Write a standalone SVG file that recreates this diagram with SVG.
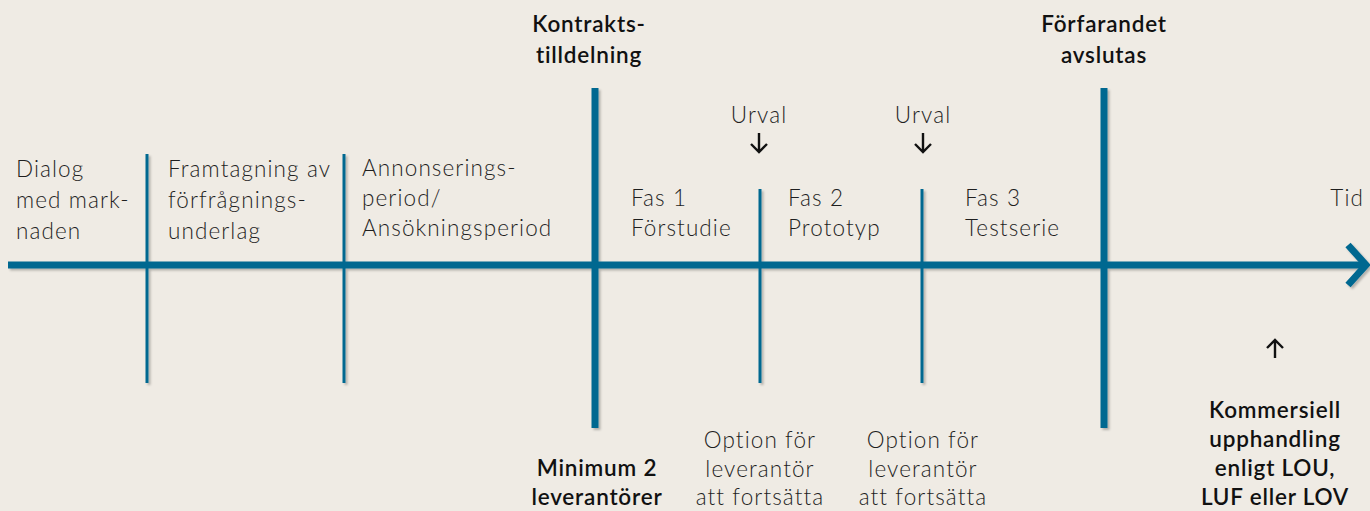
<svg xmlns="http://www.w3.org/2000/svg" width="1370" height="511" viewBox="0 0 1370 511">
<style>
.bg{fill:#efebe4}
.thin{stroke:#006890;stroke-width:3;fill:none}
.thick{stroke:#006890;stroke-width:7;fill:none}
.t{font-family:Lato,"Open Sans",sans-serif;font-weight:300;font-size:22.5px;letter-spacing:1.1px;fill:#1f1f1f}
.b{font-family:Lato,"Open Sans",sans-serif;font-weight:600;font-size:22.5px;letter-spacing:0.8px;fill:#111}
.c{text-anchor:middle}
.ar{stroke:#111;stroke-width:2.4;fill:none}
</style>
<defs>
<filter id="sh" x="-20%" y="-20%" width="140%" height="140%">
<feDropShadow dx="2" dy="2" stdDeviation="1.2" flood-color="#000" flood-opacity="0.25"/>
</filter>
</defs>
<rect class="bg" x="0" y="0" width="1370" height="511"/>
<g id="connectors" filter="url(#sh)">
<line class="thin" x1="147" y1="154" x2="147" y2="383"/>
<line class="thin" x1="344" y1="154" x2="344" y2="383"/>
<line class="thin" x1="760" y1="189" x2="760" y2="383"/>
<line class="thin" x1="922" y1="189" x2="922" y2="383"/>
<line class="thick" x1="595" y1="88" x2="595" y2="428"/>
<line class="thick" x1="1104" y1="88" x2="1104" y2="428"/>
<line class="thick" x1="8" y1="265" x2="1364" y2="265"/>
<polyline class="thick" points="1348,245 1366,265 1348,285"/>
</g>
<g id="dialog"><text class="t"><tspan x="16" y="177">Dialog</tspan><tspan x="16" y="208">med mark-</tspan><tspan x="16" y="239">naden</tspan></text></g>
<g id="framtagning"><text class="t"><tspan x="168" y="177">Framtagning av</tspan><tspan x="168" y="208">förfrågnings-</tspan><tspan x="168" y="239">underlag</tspan></text></g>
<g id="annonsering"><text class="t"><tspan x="362" y="176">Annonserings-</tspan><tspan x="362" y="206">period/</tspan><tspan x="362" y="236">Ansökningsperiod</tspan></text></g>
<g id="fas1"><text class="t"><tspan x="631" y="206">Fas 1</tspan><tspan x="631" y="236">Förstudie</tspan></text></g>
<g id="fas2"><text class="t"><tspan x="788" y="206">Fas 2</tspan><tspan x="788" y="236">Prototyp</tspan></text></g>
<g id="fas3"><text class="t"><tspan x="965" y="206">Fas 3</tspan><tspan x="965" y="236">Testserie</tspan></text></g>
<g id="tid"><text class="t" x="1364" y="206" text-anchor="end">Tid</text></g>
<g id="urval1"><text class="t c" x="759" y="123">Urval</text><path class="ar" d="M759,133 V152 M751,144 L759,152 L767,144"/></g>
<g id="urval2"><text class="t c" x="923" y="123">Urval</text><path class="ar" d="M923,133 V152 M915,144 L923,152 L931,144"/></g>
<g id="kontrakt"><text class="b c"><tspan x="589" y="32">Kontrakts-</tspan><tspan x="589" y="63">tilldelning</tspan></text></g>
<g id="forfarandet"><text class="b c"><tspan x="1104" y="32">Förfarandet</tspan><tspan x="1104" y="63">avslutas</tspan></text></g>
<g id="minimum"><text class="b c"><tspan x="597" y="476">Minimum 2</tspan><tspan x="597" y="505">leverantörer</tspan></text></g>
<g id="option1"><text class="t c"><tspan x="760" y="448">Option för</tspan><tspan x="760" y="477">leverantör</tspan><tspan x="760" y="505">att fortsätta</tspan></text></g>
<g id="option2"><text class="t c"><tspan x="923" y="448">Option för</tspan><tspan x="923" y="477">leverantör</tspan><tspan x="923" y="505">att fortsätta</tspan></text></g>
<g id="kommersiell"><path class="ar" d="M1275,358 V340 M1267,348 L1275,340 L1283,348"/><text class="b c"><tspan x="1275" y="418">Kommersiell</tspan><tspan x="1275" y="447">upphandling</tspan><tspan x="1275" y="476">enligt LOU,</tspan><tspan x="1275" y="505">LUF eller LOV</tspan></text></g>
</svg>
